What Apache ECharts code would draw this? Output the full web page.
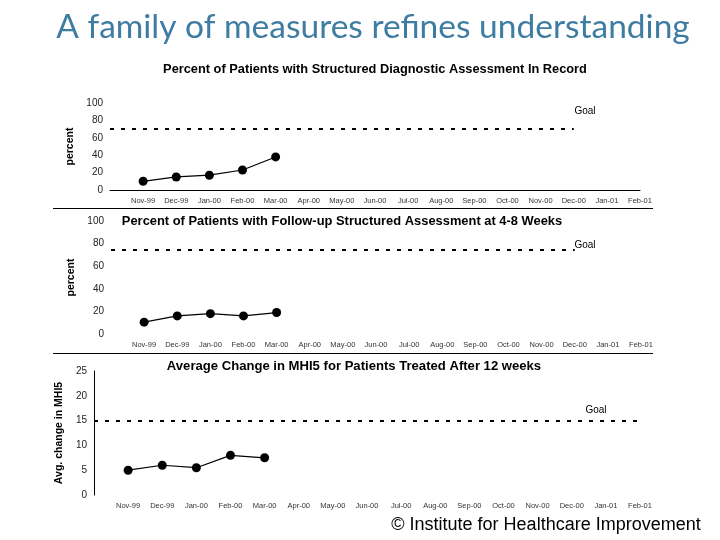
<!DOCTYPE html>
<html>
<head>
<meta charset="utf-8">
<script src="https://cdn.jsdelivr.net/npm/echarts@6/dist/echarts.min.js"></script>
<style>
html, body { margin: 0; padding: 0; background: #fff; }
#main { width: 720px; height: 540px; }
</style>
</head>
<body>
<div id="main"></div>
<script>
// months, with a blank slot before the first one
var months = ['', 'Nov-99', 'Dec-99', 'Jan-00', 'Feb-00', 'Mar-00', 'Apr-00', 'May-00', 'Jun-00',
    'Jul-00', 'Aug-00', 'Sep-00', 'Oct-00', 'Nov-00', 'Dec-00', 'Jan-01', 'Feb-01'];

// values
var diagnostic = [10, 15, 17, 23, 38];
var followUp = [10.5, 16, 18, 16, 19];
var mhi5Change = [5, 6, 5.5, 8, 7.5];

var goalDiagnostic = 70;
var goalFollowUp = 75;
var goalMhi5 = 15;

var chart = echarts.init(document.getElementById('main'));

var font = 'Liberation Sans, Arial, sans-serif';

function xAxisOf(grid, showLine) {
    return {
        type: 'category', gridIndex: grid, data: months, boundaryGap: false,
        axisLine: { show: showLine, lineStyle: { color: '#000', width: 1 } },
        axisTick: { show: false },
        axisLabel: { interval: 0, fontSize: 7.5, color: '#333', fontFamily: font, margin: 7 },
        splitLine: { show: false }
    };
}

function yAxisOf(grid, max, step, name, gap, showLine) {
    return {
        type: 'value', gridIndex: grid, min: 0, max: max, interval: step,
        name: name, nameLocation: 'middle', nameGap: gap, nameRotate: 90,
        nameTextStyle: { fontSize: 10.5, fontWeight: 'bold', color: '#000', fontFamily: font },
        axisLine: { show: showLine, lineStyle: { color: '#000', width: 1 } },
        axisTick: { show: false },
        axisLabel: { fontSize: 10, color: '#222', fontFamily: font, margin: 7 },
        splitLine: { show: false }
    };
}

function seriesOf(idx, values, goal, goalEnd) {
    return {
        type: 'line', xAxisIndex: idx, yAxisIndex: idx,
        data: [null].concat(values),
        symbol: 'circle', symbolSize: 9,
        itemStyle: { color: '#000' },
        lineStyle: { color: '#000', width: 1.2 },
        markLine: {
            silent: true, symbol: 'none', label: { show: false },
            lineStyle: { color: '#000', width: 2, type: [4, 7] },
            data: [[{ coord: [0, goal] }, { coord: [goalEnd, goal] }]]
        }
    };
}

function txt(x, y, s, size, weight, align) {
    return {
        type: 'text', x: x, y: y, silent: true,
        style: { text: s, fontSize: size, fontWeight: weight || 'normal', fill: '#000',
            fontFamily: font, align: align || 'center', verticalAlign: 'middle' }
    };
}

function hline(x1, x2, y) {
    return { type: 'line', silent: true, shape: { x1: x1, y1: y, x2: x2, y2: y },
        style: { stroke: '#000', lineWidth: 1 } };
}

var option = {
    animation: false,
    backgroundColor: '#fff',
    grid: [
        { left: 110, top: 103, width: 530, height: 87 },
        { left: 111, top: 221, width: 530, height: 113 },
        { left: 94, top: 371, width: 546, height: 124 }
    ],
    xAxis: [xAxisOf(0, true), xAxisOf(1, false), xAxisOf(2, false)],
    yAxis: [
        yAxisOf(0, 100, 20, 'percent', 33, false),
        yAxisOf(1, 100, 20, 'percent', 33, false),
        yAxisOf(2, 25, 5, 'Avg. change in MHI5', 27, true)
    ],
    series: [
        seriesOf(0, diagnostic, goalDiagnostic, 14),
        seriesOf(1, followUp, goalFollowUp, 14),
        seriesOf(2, mhi5Change, goalMhi5, 16)
    ],
    graphic: [
        {
            type: 'text', x: 373, y: 27, silent: true,
            style: { text: 'A family of measures refines understanding', fontSize: 33.5,
                fill: '#3e7ca2', fontFamily: 'Lato, Open Sans, sans-serif',
                align: 'center', verticalAlign: 'middle' }
        },
        txt(375, 69, 'Percent of Patients with Structured Diagnostic Assessment In Record', 12.8, 'bold'),
        txt(342, 221, 'Percent of Patients with Follow-up Structured Assessment at 4-8 Weeks', 12.9, 'bold'),
        txt(354, 366, 'Average Change in MHI5 for Patients Treated After 12 weeks', 13.1, 'bold'),
        txt(585, 111, 'Goal', 10),
        txt(585, 245, 'Goal', 10),
        txt(596, 410, 'Goal', 10),
        hline(53, 653, 208.5),
        hline(53, 653, 353.5),
        txt(546, 525, '\u00a9 Institute for Healthcare Improvement', 18, 'normal')
    ]
};

chart.setOption(option);
</script>
</body>
</html>
